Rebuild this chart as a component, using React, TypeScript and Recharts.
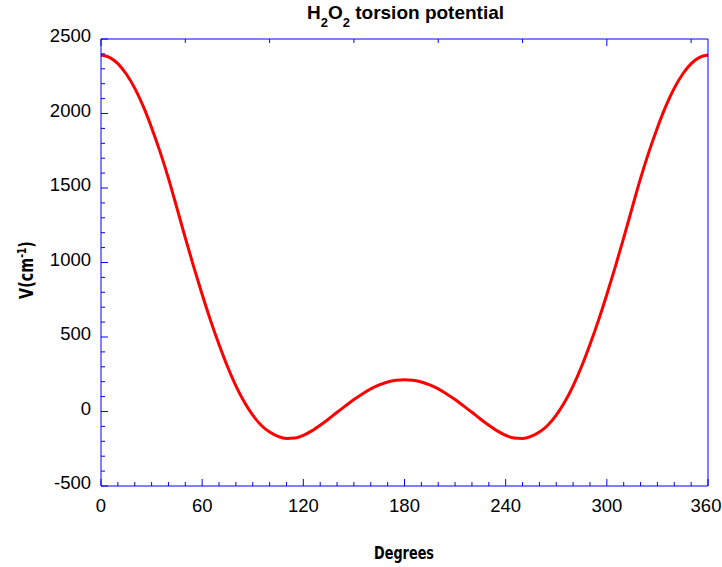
import React from 'react';
import { LineChart, Line, XAxis, YAxis } from 'recharts';

// Torsion angle (degrees) and potential V (cm^-1)
const DEGREES = [
  0, 5, 10, 15, 20, 25, 30, 35, 40, 45, 50, 55, 60, 65, 70, 75, 80, 85, 90,
  95, 100, 105, 110, 115, 120, 125, 130, 135, 140, 145, 150, 155, 160, 165, 170, 175, 180,
  185, 190, 195, 200, 205, 210, 215, 220, 225, 230, 235, 240, 245, 250, 255, 260, 265, 270,
  275, 280, 285, 290, 295, 300, 305, 310, 315, 320, 325, 330, 335, 340, 345, 350, 355, 360,
];
const POTENTIAL = [
  2392, 2377, 2335, 2265, 2170, 2049, 1905, 1744, 1565, 1367, 1165, 971, 785, 610, 450, 302, 172, 63, -25,
  -92, -138, -167, -181, -178, -160, -130, -92, -50, -5, 38, 80, 118, 152, 178, 198, 209, 213,
  209, 198, 178, 152, 118, 80, 38, -5, -50, -92, -130, -160, -178, -181, -167, -138, -92, -25,
  63, 172, 302, 450, 610, 785, 971, 1165, 1367, 1565, 1744, 1905, 2049, 2170, 2265, 2335, 2377, 2392,
];

const X_MAJOR = [0, 60, 120, 180, 240, 300, 360];
const Y_MAJOR = [-500, 0, 500, 1000, 1500, 2000, 2500];

const X_TICKS = Array.from({ length: 37 }, (_, i) => i * 10);
const Y_TICKS = Array.from({ length: 31 }, (_, i) => -500 + i * 100);

const data = DEGREES.map((d, i) => ({ deg: d, v: POTENTIAL[i] }));

const AXIS_BLUE = '#0000ff';
const LABEL_FONT = 'Arial, "Liberation Sans", sans-serif';
const TITLE_FONT = '"DejaVu Sans Condensed", "DejaVu Sans", sans-serif';

const MAJOR_LEN = 7;
const MINOR_LEN = 4;

const BottomTick = (props: any) => {
  const { x, y, payload } = props;
  const major = X_MAJOR.includes(payload.value);
  // keep the last label inside the page
  const tx = Math.min(x, 706);
  return (
    <g>
      <line x1={x} x2={x} y1={y} y2={y - (major ? MAJOR_LEN : MINOR_LEN)} stroke={AXIS_BLUE} />
      {major && (
        <text x={tx} y={y + 26} textAnchor="middle" fontSize={18.5} fontFamily={LABEL_FONT} fill="#000">
          {payload.value}
        </text>
      )}
    </g>
  );
};

const TopTick = (props: any) => {
  const { x, y, payload } = props;
  const major = X_MAJOR.includes(payload.value);
  return <line x1={x} x2={x} y1={y} y2={y + (major ? MAJOR_LEN : MINOR_LEN)} stroke={AXIS_BLUE} />;
};

const LeftTick = (props: any) => {
  const { x, y, payload } = props;
  const major = Y_MAJOR.includes(payload.value);
  return (
    <g>
      <line x1={x} x2={x + (major ? MAJOR_LEN : MINOR_LEN)} y1={y} y2={y} stroke={AXIS_BLUE} />
      {major && (
        <text x={x - 10} y={y + 3} textAnchor="end" fontSize={18.5} fontFamily={LABEL_FONT} fill="#000">
          {payload.value}
        </text>
      )}
    </g>
  );
};

const RightTick = (props: any) => {
  const { x, y, payload } = props;
  const major = Y_MAJOR.includes(payload.value);
  return <line x1={x} x2={x - (major ? MAJOR_LEN : MINOR_LEN)} y1={y} y2={y} stroke={AXIS_BLUE} />;
};

export default function App() {
  return (
    <div style={{ position: 'fixed', left: 0, top: 0, width: 722, height: 567, background: '#fff' }}>
      <LineChart
        width={722}
        height={567}
        data={data}
        margin={{ top: 38, right: 13, bottom: 80, left: 100 }}
      >
        <XAxis
          dataKey="deg"
          type="number"
          domain={[0, 360]}
          ticks={X_TICKS}
          interval={0}
          height={1}
          tickSize={0}
          tickMargin={0}
          stroke={AXIS_BLUE}
          tick={<BottomTick />}
        />
        <XAxis
          xAxisId="top"
          orientation="top"
          type="number"
          domain={[0, 360]}
          ticks={X_TICKS}
          interval={0}
          height={1}
          tickSize={0}
          tickMargin={0}
          stroke={AXIS_BLUE}
          tick={<TopTick />}
        />
        <YAxis
          type="number"
          domain={[-500, 2500]}
          ticks={Y_TICKS}
          interval={0}
          width={1}
          tickSize={0}
          tickMargin={0}
          stroke={AXIS_BLUE}
          tick={<LeftTick />}
        />
        <YAxis
          yAxisId="right"
          orientation="right"
          type="number"
          domain={[-500, 2500]}
          ticks={Y_TICKS}
          interval={0}
          width={1}
          tickSize={0}
          tickMargin={0}
          stroke={AXIS_BLUE}
          tick={<RightTick />}
        />
        <Line
          type="monotone"
          dataKey="v"
          stroke="#ff0000"
          strokeWidth={3}
          dot={false}
          isAnimationActive={false}
        />
      </LineChart>

      {/* titles */}
      <svg
        width={722}
        height={567}
        style={{ position: 'absolute', left: 0, top: 0, pointerEvents: 'none' }}
      >
        <text x={405.5} y={18.5} textAnchor="middle" fontFamily={LABEL_FONT} fontWeight="bold" fontSize={19}>
          H<tspan dy={8} fontSize={13}>2</tspan>
          <tspan dy={-8}>O</tspan>
          <tspan dy={8} fontSize={13}>2</tspan>
          <tspan dy={-8}> torsion potential</tspan>
        </text>
        <text
          transform="translate(404,559) scale(0.84,1)"
          textAnchor="middle"
          fontFamily={TITLE_FONT}
          fontWeight="bold"
          fontSize={17}
        >
          Degrees
        </text>
        <text
          transform="translate(33,270) rotate(-90) scale(0.84,1)"
          textAnchor="middle"
          fontFamily={TITLE_FONT}
          fontWeight="bold"
          fontSize={19}
        >
          V(cm<tspan dy={-7} fontSize={12}>-1</tspan>
          <tspan dy={7}>)</tspan>
        </text>
      </svg>
    </div>
  );
}
